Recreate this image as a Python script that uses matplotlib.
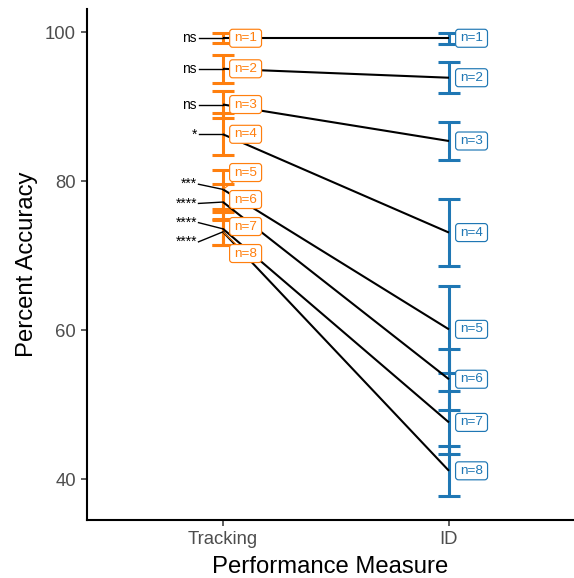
import numpy as np
import matplotlib
matplotlib.use("Agg")
import matplotlib.pyplot as plt
from matplotlib.patches import FancyBboxPatch
from matplotlib.lines import Line2D
from matplotlib.transforms import IdentityTransform

# ---------------- data ----------------
conditions = ["Tracking", "ID"]
set_sizes = [1, 2, 3, 4, 5, 6, 7, 8]
tracking_mean = [99.2, 95.1, 90.3, 86.3, 78.9, 77.2, 73.6, 73.2]
tracking_err = [0.7, 1.85, 1.8, 2.8, 2.6, 2.4, 2.2, 1.75]
id_mean = [99.2, 93.9, 85.4, 73.1, 60.1, 53.4, 47.6, 41.1]
id_err = [0.75, 2.1, 2.5, 4.55, 5.8, 4.1, 4.25, 3.35]
sig_labels = ["ns", "ns", "ns", "*", "***", "****", "****", "****"]
y_ticks = [40, 60, 80, 100]

# ---------------- style ----------------
plt.rcParams["font.family"] = ["Liberation Sans", "DejaVu Sans"]
ORANGE = "#FF7F0E"
BLUE = "#1F77B4"


def repel(values, gap, iters=2000):
    y = np.array(values, dtype=float)
    order = np.argsort(-y)
    ys = y[order].copy()
    for _ in range(iters):
        moved = False
        for i in range(len(ys) - 1):
            d = ys[i] - ys[i + 1]
            if d < gap - 1e-9:
                s = (gap - d) / 2
                ys[i] += s
                ys[i + 1] -= s
                moved = True
        if not moved:
            break
    out = np.empty_like(y)
    out[order] = ys
    return out


fig = plt.figure(figsize=(5.74, 5.78), dpi=100)
ax = fig.add_axes([0.1521, 0.1003, 0.8462, 0.8836])
ax.set_xlim(0.3995, 2.549)
ax.set_ylim(34.49, 103.09)

xpos = {c: i + 1 for i, c in enumerate(conditions)}
xt, xi = xpos["Tracking"], xpos["ID"]

ax.errorbar([xt] * len(set_sizes), tracking_mean, yerr=tracking_err, fmt="none",
            ecolor=ORANGE, elinewidth=2.2, capsize=7.7, capthick=2.2, zorder=2)
ax.errorbar([xi] * len(set_sizes), id_mean, yerr=id_err, fmt="none",
            ecolor=BLUE, elinewidth=2.2, capsize=7.7, capthick=2.2, zorder=2)

for tm, im in zip(tracking_mean, id_mean):
    ax.plot([xt, xi], [tm, im], color="black", lw=1.5, zorder=3,
            solid_capstyle="butt")

# axes styling (classic theme)
for s in ["top", "right"]:
    ax.spines[s].set_visible(False)
for s in ["left", "bottom"]:
    ax.spines[s].set_linewidth(1.5)
    ax.spines[s].set_color("black")
ax.set_xticks([xt, xi])
ax.set_xticklabels(conditions)
ax.set_yticks(y_ticks)
ax.tick_params(axis="both", length=4.1, width=1.1, color="#333333",
               labelcolor="#4D4D4D", labelsize=13.3)
ax.tick_params(axis="x", pad=3.8)
ax.tick_params(axis="y", pad=4.0)
ax.set_xlabel("Performance Measure", fontsize=17.2, color="black")
ax.set_ylabel("Percent Accuracy", fontsize=17.2, color="black")
ax.xaxis.set_label_coords(0.5, -0.0705)
ax.yaxis.set_label_coords(-0.1015, 0.5)

# label positions (simple repel)
px_per_unit = 7.445
track_lab_y = repel(tracking_mean, 27 / px_per_unit)
id_lab_y = repel(id_mean, 27 / px_per_unit)
sig_lab_y = repel(tracking_mean, 19.2 / px_per_unit)

lab_fs = 9.7
track_texts = []
id_texts = []
for n, ly in zip(set_sizes, track_lab_y):
    track_texts.append(ax.text(xt + 0.1, ly, f"n={n}", ha="center", va="center",
                               fontsize=lab_fs, color=ORANGE, zorder=6))
for n, ly in zip(set_sizes, id_lab_y):
    id_texts.append(ax.text(xi + 0.1, ly, f"n={n}", ha="center", va="center",
                            fontsize=lab_fs, color=BLUE, zorder=6))
sig_texts = []
for lab, ly in zip(sig_labels, sig_lab_y):
    sig_texts.append(ax.text(xt - 0.115, ly, lab, ha="right", va="center",
                             fontsize=9.9, color="black", zorder=6))

fig.canvas.draw()
renderer = fig.canvas.get_renderer()
ident = IdentityTransform()


def add_box(t, col):
    bb = t.get_window_extent(renderer)
    cx = (bb.x0 + bb.x1) / 2
    cy = (bb.y0 + bb.y1) / 2
    w = bb.width + 9
    h = 18.0
    p = FancyBboxPatch((cx - w / 2, cy - h / 2), w, h,
                       boxstyle="round,pad=0,rounding_size=3",
                       transform=ident, fc="white", ec=col, lw=0.85, zorder=5)
    ax.add_artist(p)
    return cx, cy, w / 2, h / 2


for t, m in zip(track_texts, tracking_mean):
    cx, cy, hw, hh = add_box(t, ORANGE)
    px, py = ax.transData.transform((xt, m))
    dx, dy = cx - px, cy - py
    if abs(dy) > 10:
        s = 1 - 1 / max(abs(dx) / hw, abs(dy) / hh)
        ln = Line2D([px, px + s * dx], [py, py + s * dy], transform=ident,
                    color=ORANGE, lw=0.8, zorder=4)
        ax.add_artist(ln)

for t in id_texts:
    add_box(t, BLUE)

for t, m in zip(sig_texts, tracking_mean):
    bb = t.get_window_extent(renderer)
    cy = (bb.y0 + bb.y1) / 2
    px, py = ax.transData.transform((xt, m))
    ln = Line2D([bb.x1 + 1.5, px], [cy, py], transform=ident,
                color="black", lw=1.0, zorder=4)
    ax.add_artist(ln)

fig.savefig("out.png", dpi=100)
